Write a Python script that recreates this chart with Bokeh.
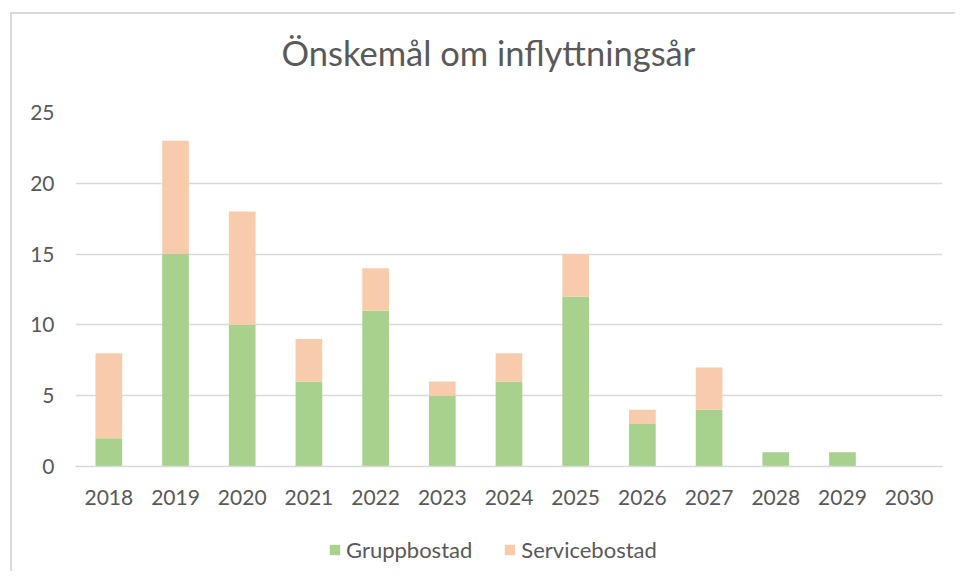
from bokeh.plotting import figure
from bokeh.layouts import column
from bokeh.models import Range1d, Legend, LegendItem, Label
from bokeh.embed import file_html
from bokeh.resources import INLINE

years = ["2018", "2019", "2020", "2021", "2022", "2023", "2024",
         "2025", "2026", "2027", "2028", "2029", "2030"]
gruppbostad = [2, 15, 10, 6, 11, 5, 6, 12, 3, 4, 1, 1, 0]
servicebostad = [6, 8, 8, 3, 3, 1, 2, 3, 1, 3, 0, 0, 0]
series_names = ["Gruppbostad", "Servicebostad"]
colors = ["#A9D18E", "#F8CBAD"]
y_ticks = [0, 5, 10, 15, 20, 25]
title_text = "Önskemål om inflyttningsår"

FONT = "Lato"
TXT = "#595959"
GRID = "#D9D9D9"
W = 943

data = {"year": years, "Gruppbostad": gruppbostad, "Servicebostad": servicebostad}


def strip(height):
    f = figure(x_range=years, y_range=Range1d(0, 1), width=W, height=height,
               output_backend="svg", toolbar_location=None,
               x_axis_location=None, y_axis_location=None,
               min_border_left=0, min_border_right=0,
               min_border_top=0, min_border_bottom=0)
    f.outline_line_color = None
    f.xgrid.grid_line_color = None
    f.ygrid.grid_line_color = None
    return f


# title strip (chart-area frame drawn as shadows on the top and left)
t = strip(76)
t.margin = (14, 0, 0, 12)
t.styles = {"box-shadow": "-2px -2px 0 0 #D9D9D9, 0 -2px 0 0 #D9D9D9, "
                          "-2px 0 0 0 #D9D9D9"}
t.add_layout(Label(x=206, y=38, x_units="screen", y_units="screen",
                   text=title_text, text_font=FONT, text_font_size="34.5px",
                   text_color=TXT, text_baseline="alphabetic", text_align="left"))

# main chart
p = figure(x_range=years, y_range=Range1d(0, 25), width=W, height=421,
           output_backend="svg", toolbar_location=None,
           min_border_left=63, min_border_right=13, min_border_top=22,
           min_border_bottom=45)
p.margin = (0, 0, 0, 12)
p.styles = {"box-shadow": "-2px 0 0 0 #D9D9D9"}

p.vbar_stack(series_names, x="year", width=0.4, color=colors,
             line_color=None, source=data)

p.outline_line_color = None
p.xgrid.grid_line_color = None
p.ygrid.grid_line_color = GRID
p.ygrid.grid_line_width = 1.5
p.ygrid.ticker = y_ticks

p.yaxis.ticker = y_ticks
p.yaxis.axis_line_color = None
p.yaxis.major_tick_line_color = None
p.yaxis.minor_tick_line_color = None
p.yaxis.major_label_text_font = FONT
p.yaxis.major_label_text_font_size = "21px"
p.yaxis.major_label_text_color = TXT
p.yaxis.major_label_standoff = 15

p.xaxis.axis_line_color = GRID
p.xaxis.axis_line_width = 1.5
p.xaxis.major_tick_line_color = None
p.xaxis.minor_tick_line_color = None
p.xaxis.major_label_text_font = FONT
p.xaxis.major_label_text_font_size = "21px"
p.xaxis.major_label_text_color = TXT
p.xaxis.major_label_standoff = 17
p.x_range.range_padding = 0

# legend strip below the chart (hidden copies of the bars provide the keys)
lg = strip(60)
lg.margin = (0, 0, 0, 12)
lg.styles = {"box-shadow": "-2px 0 0 0 #D9D9D9"}
key_renderers = lg.vbar_stack(series_names, x="year", width=0.4, color=colors,
                              line_color=None, source=data)
for r in key_renderers:
    r.visible = False

legend = Legend(items=[LegendItem(label=n, renderers=[r])
                       for n, r in zip(series_names, key_renderers)],
                orientation="horizontal", location=(253, 8),
                label_text_font=FONT, label_text_font_size="22px",
                label_text_color=TXT, glyph_width=13, glyph_height=13,
                spacing=31, padding=0, margin=0, border_line_color=None,
                background_fill_alpha=0, label_standoff=5,
                inactive_fill_alpha=0, click_policy="none")
lg.add_layout(legend, "center")

layout = column(t, p, lg, spacing=0)
open("out.html", "w").write(file_html(layout, INLINE))
